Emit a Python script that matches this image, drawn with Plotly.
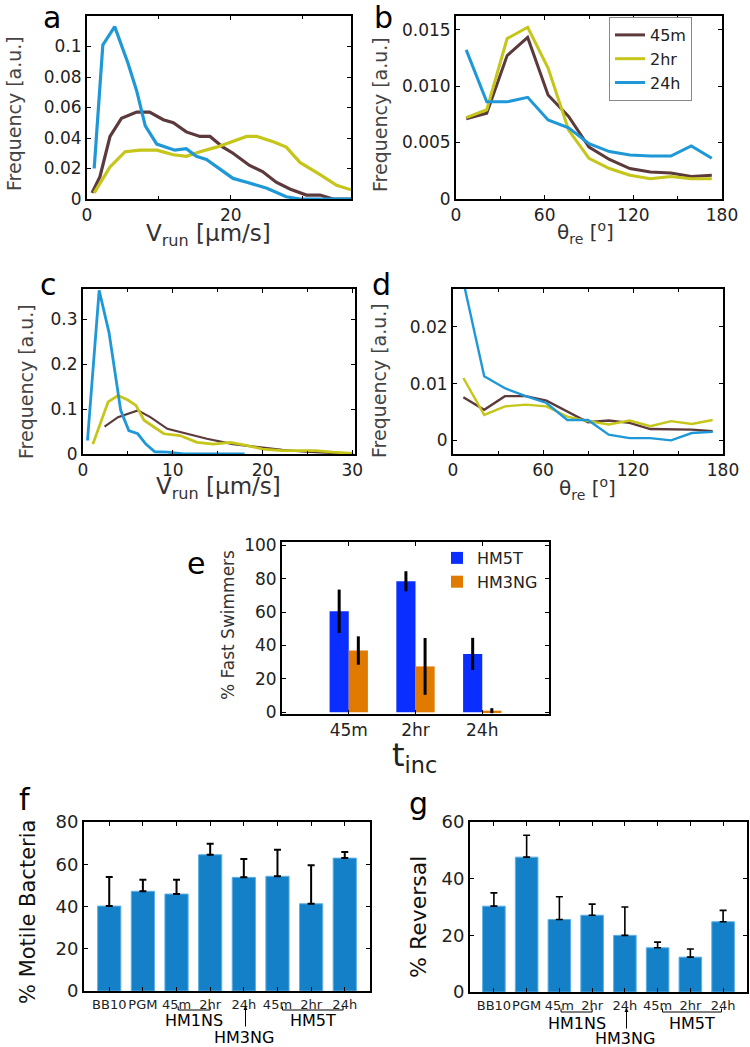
import plotly.graph_objects as go

# ---------------- data ----------------
series_names = ["45m", "2hr", "24h"]
line_colors = {"45m": "#5c3a3c", "2hr": "#c5c51a", "24h": "#1f98d8"}

# panel a : run speed distributions (condition 1)
a_x_45m = [0.7, 1.8, 3.2, 4.8, 6.9, 8.7, 10.6, 12.0, 13.8, 15.7, 17.1, 18.9, 20.3, 22.6, 24.4, 26.3, 28.2, 30.5, 32.4, 34.2, 36.7]
a_y_45m = [0.004, 0.0146, 0.041, 0.053, 0.057, 0.057, 0.052, 0.050, 0.044, 0.041, 0.041, 0.034, 0.030, 0.022, 0.018, 0.011, 0.0066, 0.0026, 0.0026, 0.0, 0.0]
a_x_2hr = [1.0, 3.2, 5.3, 7.4, 9.7, 12.0, 13.8, 15.7, 18.0, 20.3, 22.2, 23.6, 25.9, 27.7, 29.6, 32.4, 34.7, 36.7]
a_y_2hr = [0.004, 0.021, 0.031, 0.032, 0.032, 0.029, 0.028, 0.031, 0.034, 0.0376, 0.041, 0.041, 0.0376, 0.034, 0.024, 0.016, 0.009, 0.006]
a_x_24h = [1.0, 2.2, 3.85, 5.7, 6.9, 8.1, 9.7, 12.2, 13.8, 15.2, 16.6, 18.4, 20.3, 22.2, 25.0, 27.7, 29.6, 32.0, 36.7]
a_y_24h = [0.020, 0.101, 0.113, 0.089, 0.071, 0.048, 0.036, 0.032, 0.033, 0.028, 0.026, 0.020, 0.0135, 0.011, 0.007, 0.0015, 0.0, 0.0, 0.0]

# panel b / d : reorientation angle bins
theta_bins = [6.9, 20.8, 34.6, 48.5, 62.3, 76.2, 90.0, 103.8, 117.7, 131.5, 145.4, 159.2, 173.1]
b_45m = [0.0071, 0.0076, 0.0127, 0.0143, 0.0092, 0.0073, 0.0046, 0.0035, 0.0027, 0.0024, 0.0023, 0.0020, 0.0021]
b_2hr = [0.0072, 0.0079, 0.0142, 0.0152, 0.0116, 0.0061, 0.0036, 0.0027, 0.0021, 0.0018, 0.0020, 0.0018, 0.0018]
b_24h = [0.0132, 0.0086, 0.0086, 0.0090, 0.0070, 0.0063, 0.0049, 0.0042, 0.0039, 0.0038, 0.0038, 0.0047, 0.0036]

# panel c : run speed distributions (condition 2)
c_x_45m = [2.4, 3.9, 6.1, 7.5, 9.4, 11.6, 13.8, 16.7, 19.7, 22.2, 24.8, 27.8, 30.1]
c_y_45m = [0.061, 0.082, 0.097, 0.082, 0.056, 0.045, 0.034, 0.022, 0.015, 0.009, 0.005, 0.0015, 0.0]
c_x_2hr = [1.1, 2.8, 3.9, 5.0, 5.9, 6.8, 7.9, 9.0, 10.8, 12.7, 14.5, 16.4, 18.2, 20.0, 22.2, 24.1, 25.9, 27.8, 30.1]
c_y_2hr = [0.022, 0.116, 0.130, 0.120, 0.108, 0.075, 0.060, 0.045, 0.041, 0.026, 0.022, 0.026, 0.019, 0.011, 0.0075, 0.0075, 0.0075, 0.004, 0.0015]
c_x_24h = [0.5, 1.8, 2.9, 3.7, 4.2, 5.1, 6.1, 7.0, 8.0, 9.4, 11.2, 14.0, 18.0]
c_y_24h = [0.030, 0.364, 0.270, 0.157, 0.097, 0.052, 0.045, 0.022, 0.005, 0.004, 0.0, 0.0, 0.0]

# panel d
d_45m = [0.0076, 0.0054, 0.0078, 0.0078, 0.0070, 0.0051, 0.0032, 0.0035, 0.0031, 0.0020, 0.0020, 0.0019, 0.0016]
d_2hr = [0.0110, 0.0045, 0.0060, 0.0063, 0.0060, 0.0042, 0.0034, 0.0028, 0.0035, 0.0025, 0.0034, 0.0029, 0.0036]
d_24h = [0.0280, 0.0113, 0.0092, 0.0078, 0.0066, 0.0036, 0.0036, 0.0010, 0.0004, 0.0004, 0.0000, 0.0013, 0.0015]

# panel e : fast swimmers
e_cats = ["45m", "2hr", "24h"]
e_pos = [1, 2, 3]
e_hm5t = [60.5, 78.5, 35.0]
e_hm5t_err = [13.0, 6.0, 9.6]
e_hm3ng = [37.0, 27.5, 1.0]
e_hm3ng_err = [8.5, 17.0, 1.5]

# panels f, g
fg_labels = ["BB10", "PGM", "45m", "2hr", "24h", "45m", "2hr", "24h"]
fg_pos = [0, 1, 2, 3, 4, 5, 6, 7]
f_vals = [40.2, 47.2, 45.9, 64.5, 53.8, 54.3, 41.3, 62.9]
f_err = [13.8, 5.5, 6.8, 5.2, 8.7, 12.6, 18.2, 2.9]
g_vals = [30.3, 47.6, 25.6, 27.1, 20.0, 15.6, 12.3, 24.8]
g_err = [4.7, 7.7, 8.0, 3.9, 10.0, 2.0, 2.9, 4.0]

BAR_BLUE = "#1380c8"
E_BLUE = "#0a2eff"
E_ORANGE = "#e07a00"
FONT = "DejaVu Sans"
W, H = 750, 1047

fig = go.Figure()

def add_line(x, y, name, xa, ya, width, show):
    fig.add_trace(go.Scatter(x=x, y=y, mode="lines", name=name,
                             line=dict(color=line_colors[name], width=width),
                             xaxis=xa, yaxis=ya, showlegend=show, legend="legend"))

# a
add_line(a_x_45m, a_y_45m, "45m", "x", "y", 3.2, False)
add_line(a_x_2hr, a_y_2hr, "2hr", "x", "y", 3.2, False)
add_line(a_x_24h, a_y_24h, "24h", "x", "y", 3.2, False)
# b
add_line(theta_bins, b_45m, "45m", "x2", "y2", 3, True)
add_line(theta_bins, b_2hr, "2hr", "x2", "y2", 3, True)
add_line(theta_bins, b_24h, "24h", "x2", "y2", 3, True)
# c
add_line(c_x_45m, c_y_45m, "45m", "x3", "y3", 2.2, False)
add_line(c_x_2hr, c_y_2hr, "2hr", "x3", "y3", 2.8, False)
add_line(c_x_24h, c_y_24h, "24h", "x3", "y3", 2.8, False)
# d
add_line(theta_bins, d_45m, "45m", "x4", "y4", 2.4, False)
add_line(theta_bins, d_2hr, "2hr", "x4", "y4", 2.4, False)
add_line(theta_bins, d_24h, "24h", "x4", "y4", 2.4, False)

# e
fig.add_trace(go.Bar(x=e_pos, y=e_hm5t, name="HM5T", marker=dict(color=E_BLUE, line=dict(width=0)),
                     width=0.287, offset=-0.287, xaxis="x5", yaxis="y5", legend="legend2",
                     error_y=dict(type="data", array=e_hm5t_err, color="black", thickness=3, width=0)))
fig.add_trace(go.Bar(x=e_pos, y=e_hm3ng, name="HM3NG", marker=dict(color=E_ORANGE, line=dict(width=0)),
                     width=0.287, offset=0.0, xaxis="x5", yaxis="y5", legend="legend2",
                     error_y=dict(type="data", array=e_hm3ng_err, color="black", thickness=3, width=0)))
# f
fig.add_trace(go.Bar(x=fg_pos, y=f_vals, marker=dict(color=BAR_BLUE, line=dict(color="#5fb0e6", width=1)),
                     width=0.69, xaxis="x6", yaxis="y6", showlegend=False,
                     error_y=dict(type="data", symmetric=False, array=f_err, arrayminus=[0]*8,
                                  color="black", thickness=2, width=3.5)))
# g
fig.add_trace(go.Bar(x=fg_pos, y=g_vals, marker=dict(color=BAR_BLUE, line=dict(color="#5fb0e6", width=1)),
                     width=0.69, xaxis="x7", yaxis="y7", showlegend=False,
                     error_y=dict(type="data", symmetric=False, array=g_err, arrayminus=[0]*8,
                                  color="black", thickness=1.6, width=3.5)))

def dom_x(l, r):
    return [l / W, r / W]

def dom_y(t, b):
    return [1 - b / H, 1 - t / H]

def ax(domain, anchor, rng, tickvals, ticktext, fsize=17, minor=None):
    d = dict(domain=domain, anchor=anchor, range=rng, tickmode="array", tickvals=tickvals,
             ticktext=ticktext, showline=True, linecolor="black", linewidth=2, mirror="ticks",
             ticks="inside", ticklen=4, tickwidth=1, tickcolor="black", showgrid=False, zeroline=False,
             tickfont=dict(family=FONT, size=fsize, color="#222"), fixedrange=True,
             automargin=False, tickangle=0)
    if minor is not None:
        d["minor"] = dict(ticks="inside", ticklen=3, tickcolor="black", dtick=minor, showgrid=False)
    return d

layout = dict(
    width=W, height=H, margin=dict(l=0, r=0, t=0, b=0, autoexpand=False),
    paper_bgcolor="white", plot_bgcolor="white",
    font=dict(family=FONT, color="#222"),
    xaxis=ax(dom_x(87, 351), "y", [0, 36.7], [0, 20], ["0", "20"], minor=10),
    yaxis=ax(dom_y(16, 199), "x", [0, 0.12], [0, 0.02, 0.04, 0.06, 0.08, 0.1],
             ["0", "0.02", "0.04", "0.06", "0.08", "0.1"]),
    xaxis2=ax(dom_x(456, 722), "y2", [0, 180], [0, 60, 120, 180], ["0", "60", "120", "180"], minor=30),
    yaxis2=ax(dom_y(16, 199), "x2", [0, 0.0162], [0, 0.005, 0.010, 0.015],
              ["0", "0.005", "0.010", "0.015"]),
    xaxis3=ax(dom_x(83, 355), "y3", [0, 30.3], [0, 10, 20, 30], ["0", "10", "20", "30"], minor=5),
    yaxis3=ax(dom_y(289, 454), "x3", [0, 0.367], [0, 0.1, 0.2, 0.3], ["0", "0.1", "0.2", "0.3"]),
    xaxis4=ax(dom_x(453, 723), "y4", [0, 180], [0, 60, 120, 180], ["0", "60", "120", "180"], minor=30),
    yaxis4=ax(dom_y(289, 454), "x4", [-0.0024, 0.0267], [0, 0.01, 0.02], ["0", "0.01", "0.02"]),
    xaxis5=ax(dom_x(282, 549), "y5", [0, 4], e_pos, e_cats),
    yaxis5=ax(dom_y(542, 714), "x5", [-1, 102], [0, 20, 40, 60, 80, 100],
              ["0", "20", "40", "60", "80", "100"]),
    xaxis6=ax(dom_x(84, 370), "y6", [-0.75, 7.75], fg_pos, fg_labels, fsize=13),
    yaxis6=ax(dom_y(822, 991), "x6", [0, 80], [0, 20, 40, 60, 80], ["0", "20", "40", "60", "80"], fsize=18),
    xaxis7=ax(dom_x(470, 747), "y7", [-0.73, 7.73], fg_pos, fg_labels, fsize=13),
    yaxis7=ax(dom_y(822, 992), "x7", [0, 60], [0, 20, 40, 60], ["0", "20", "40", "60"], fsize=18),
    legend=dict(x=609 / W, y=1 - 17 / H, xanchor="left", yanchor="top", bgcolor="white",
                bordercolor="#888", borderwidth=1, font=dict(family=FONT, size=16, color="#222"),
                tracegroupgap=0, itemwidth=30),
    legend2=dict(x=437 / W, y=1 - 541 / H, xanchor="left", yanchor="top", bgcolor="rgba(0,0,0,0)",
                 borderwidth=0, font=dict(family=FONT, size=16, color="#222"), tracegroupgap=0),
)
fig.update_layout(**layout)

# axis titles: (text, x px, y px, size, angle, colour, y anchor)
freq_title = "Frequency [a.u.]"
vrun_title = "V<sub>run</sub> [μm/s]"
theta_title = "θ<sub>re</sub> [<sup>o</sup>]"
titles = [
    (vrun_title, 208, 218, 23, 0, "#333", "top"),
    (theta_title, 585, 216, 20, 0, "#333", "top"),
    (vrun_title, 218, 471, 23, 0, "#333", "top"),
    (theta_title, 587, 472, 20, 0, "#333", "top"),
    ("t<sub>inc</sub>", 414, 734, 32, 0, "#222", "top"),
    (freq_title, 14, 114, 19, -90, "#444", "middle"),
    (freq_title, 380, 115, 19, -90, "#444", "middle"),
    (freq_title, 26, 382, 19, -90, "#444", "middle"),
    (freq_title, 379, 381, 19, -90, "#444", "middle"),
    ("% Fast Swimmers", 228, 625, 17, -90, "#333", "middle"),
    ("% Motile Bacteria", 28, 912, 21, -90, "#111", "middle"),
    ("% Reversal", 418, 917, 22, -90, "#111", "middle"),
]
for t, px, py, fs, ang, col, ya in titles:
    fig.add_annotation(text=t, x=px / W, y=1 - py / H, xref="paper", yref="paper",
                       showarrow=False, xanchor="center", yanchor=ya, textangle=ang,
                       font=dict(family=FONT, size=fs, color=col))

# panel letters
letters = [("a", 52, 17), ("b", 383, 17), ("c", 48, 284), ("d", 381, 284),
           ("e", 196, 563), ("f", 25, 799), ("g", 418, 803)]
for t, px, py in letters:
    fig.add_annotation(text=t, x=px / W, y=1 - py / H, xref="paper", yref="paper",
                       showarrow=False, xanchor="center", yanchor="middle",
                       font=dict(family=FONT, size=30, color="black"))

# group labels under f and g
def group_labels(xref, y_br, y_txt, y_arrow_top, y_arrow_bot, y_ng):
    yb = 1 - y_br / H
    ytop = 1 - (y_br - 3.5) / H
    for (x0, x1, label) in [(2.05, 3.0, "HM1NS"), (5.15, 6.95, "HM5T")]:
        fig.add_shape(type="path", xref=xref, yref="paper",
                      path=f"M {x0},{ytop} L {x0},{yb} L {x1},{yb} L {x1},{ytop}",
                      line=dict(color="black", width=1))
        fig.add_annotation(text=label, x=(x0 + x1) / 2, y=1 - y_txt / H, xref=xref, yref="paper",
                           showarrow=False, xanchor="center", yanchor="middle",
                           font=dict(family=FONT, size=16, color="black"))
    fig.add_annotation(text="", x=4.05, y=1 - y_arrow_top / H, ax=0, ay=y_arrow_bot - y_arrow_top,
                       xref=xref, yref="paper", axref="pixel", ayref="pixel", showarrow=True,
                       arrowhead=2, arrowsize=0.8, arrowwidth=1, arrowcolor="black")
    fig.add_annotation(text="HM3NG", x=4.0, y=1 - y_ng / H, xref=xref, yref="paper",
                       showarrow=False, xanchor="center", yanchor="middle",
                       font=dict(family=FONT, size=16, color="black"))

group_labels("x6", 1010, 1020, 1006, 1028, 1037)
group_labels("x7", 1012, 1023, 1008, 1030, 1038)

fig.write_html("out.html", config={"displayModeBar": False},
               post_script="document.body.style.margin='0px';document.body.style.overflow='hidden';")
